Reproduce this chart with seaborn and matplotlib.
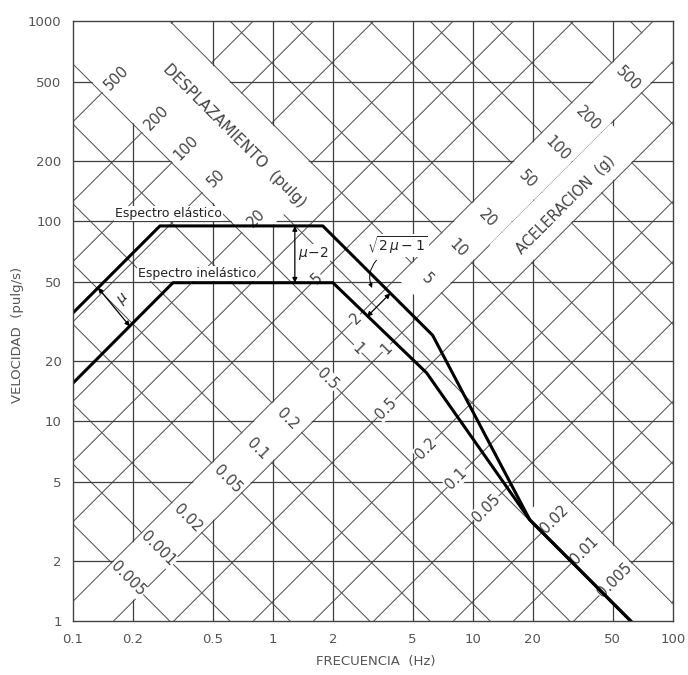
import numpy as np
import pandas as pd
import seaborn as sns
import matplotlib.pyplot as plt
from matplotlib.patches import Polygon

sns.set_theme(style='white')
plt.rcParams['font.family'] = ['DejaVu Sans']

G = 386.0  # gravedad en pulg/s2

# ejes
frec_ticks = [0.1, 0.2, 0.5, 1, 2, 5, 10, 20, 50, 100]
vel_ticks = [1, 2, 5, 10, 20, 50, 100, 200, 500, 1000]

# lineas diagonales del nomograma
desp_lineas = [0.0005, 0.001, 0.002, 0.005, 0.01, 0.02, 0.05, 0.1, 0.2, 0.5,
               1, 2, 5, 10, 20, 50, 100, 200, 500, 1000, 2000, 5000]
acel_lineas = [0.0002, 0.0005, 0.001, 0.002, 0.005, 0.01, 0.02, 0.05, 0.1, 0.2, 0.5,
               1, 2, 5, 10, 20, 50, 100, 200, 500, 1000, 2000]

# espectros (frecuencia Hz, velocidad pulg/s)
elastico_f = [0.1, 0.273, 1.78, 6.3, 19.3, 62]
elastico_v = [34.8, 95, 95, 27, 3.22, 1.0]
inelastico_f = [0.1, 0.317, 2.0, 5.88, 19.3, 62]
inelastico_v = [15.5, 49.4, 49.4, 17.5, 3.22, 1.0]

# rotulos de desplazamiento (pulg)
desp_rot = ['500', '200', '100', '50', '20', '5', '2', '1',
            '0.5', '0.2', '0.1', '0.05', '0.02', '0.01', '0.005']
desp_rot_val = [500, 200, 100, 50, 20, 5, 2, 1, 0.5, 0.2, 0.1, 0.05, 0.02, 0.01, 0.005]
desp_rot_acel = [1.4] * 8 + [0.7] * 4 + [1.35] * 3   # aceleracion donde va cada rotulo

# rotulos de aceleracion (g)
acel_rot = ['0.005', '0.001', '0.02', '0.05', '0.1', '0.2', '0.5', '1',
            '5', '10', '20', '50', '100', '200', '500']
acel_rot_val = [0.005, 0.01, 0.02, 0.05, 0.1, 0.2, 0.5, 1, 5, 10, 20, 50, 100, 200, 500]
acel_rot_desp = 1.38


def punto(A, D):
    # interseccion de la linea de aceleracion A con la de desplazamiento D
    v = np.sqrt(A * D * G)
    return v / (2 * np.pi * D), v


fig = plt.figure(figsize=(6.88, 6.75), dpi=100)
ax = fig.add_axes([0.1057, 0.0793, 0.8721, 0.8889])
ax.set_xscale('log')
ax.set_yscale('log')

gris = '#575757'
f_ext = np.array([0.01, 1000.0])
for D in desp_lineas:
    ax.plot(f_ext, 2 * np.pi * f_ext * D, color=gris, lw=0.75, zorder=1)
for A in acel_lineas:
    ax.plot(f_ext, A * G / (2 * np.pi * f_ext), color=gris, lw=0.75, zorder=1)
for f in frec_ticks[1:-1]:
    ax.axvline(f, color='#3f3f3f', lw=0.9, zorder=1)
for v in vel_ticks[1:-1]:
    ax.axhline(v, color='#3f3f3f', lw=0.9, zorder=1)


# franjas blancas donde van los rotulos
def franja(a1, a2, d1, d2):
    k = 1.015
    a1, a2, d1, d2 = a1 * k, a2 / k, d1 * k, d2 / k
    esq = [punto(a1, d1), punto(a2, d1), punto(a2, d2), punto(a1, d2)]
    ax.add_patch(Polygon(esq, closed=True, fc='white', ec='none', zorder=2))


franja(1e-6, 0.3, 1, 2)       # aceleracion, abajo a la izquierda
franja(3.5, 1e6, 1, 2)        # aceleracion, arriba a la derecha
franja(15, 250, 0.5, 1.02)    # zona del titulo de aceleracion
franja(1, 5, 15, 1e6)         # desplazamiento, arriba a la izquierda
franja(1, 2, 1e-6, 0.03)      # desplazamiento, abajo a la derecha

caja = dict(fc='white', ec='none', pad=0.6)
for s, D, A in zip(desp_rot, desp_rot_val, desp_rot_acel):
    x, y = punto(A, D)
    ax.text(x, y, s, rotation=45, rotation_mode='anchor', ha='center', va='center',
            fontsize=10.5, color='#444444', zorder=4, bbox=caja)
for s, A in zip(acel_rot, acel_rot_val):
    x, y = punto(A, acel_rot_desp)
    ax.text(x, y, s, rotation=-45, rotation_mode='anchor', ha='center', va='center',
            fontsize=10.5, color='#444444', zorder=4, bbox=caja)

x, y = punto(2.8, 66)
ax.text(x, y, 'DESPLAZAMIENTO  (pulg)', rotation=-45, rotation_mode='anchor',
        ha='center', va='center', fontsize=11, color='#444444', zorder=4)
x, y = punto(57, 0.66)
ax.text(x, y, 'ACELERACION  (g)', rotation=45, rotation_mode='anchor',
        ha='center', va='center', fontsize=10.5, color='#444444', zorder=4)

# espectros
df = pd.DataFrame({
    'f': elastico_f + inelastico_f,
    'v': elastico_v + inelastico_v,
    'espectro': ['elastico'] * len(elastico_f) + ['inelastico'] * len(inelastico_f),
})
sns.lineplot(data=df, x='f', y='v', units='espectro', estimator=None, sort=False,
             color='black', lw=2.2, ax=ax, zorder=5, legend=False)

ax.text(0.163, 102, 'Espectro elástico', ha='left', va='bottom', fontsize=9,
        color='#222222', zorder=4, bbox=caja)
ax.text(0.212, 51, 'Espectro inelástico', ha='left', va='bottom', fontsize=9,
        color='#222222', zorder=4, bbox=caja)

flecha = dict(arrowstyle='<|-|>', color='black', lw=0.9, mutation_scale=7,
              shrinkA=0, shrinkB=0)
ax.annotate('', xy=(0.193, 29.9), xytext=(0.134, 46.6), arrowprops=flecha, zorder=6)
ax.text(0.18, 41, r'$\mu$', rotation=45, ha='center', va='center', fontsize=10, zorder=6)
ax.annotate('', xy=(1.29, 49.4), xytext=(1.29, 95), arrowprops=flecha, zorder=6)
ax.text(1.6, 69, r'$\mu\!-\!2$', ha='center', va='center', fontsize=10, zorder=6,
        bbox=caja)
ax.annotate('', xy=(2.96, 33.4), xytext=(3.87, 43.7), arrowprops=flecha, zorder=6)
ax.annotate('', xy=(3.14, 46.5), xytext=(3.3, 64),
            arrowprops=dict(arrowstyle='-|>', color='black', lw=0.7, mutation_scale=6,
                            shrinkA=0, shrinkB=0, connectionstyle='arc3,rad=0.3'), zorder=6)
ax.text(4.2, 76, r'$\sqrt{2\,\mu-1}$', ha='center', va='center', fontsize=10, zorder=6,
        bbox=caja)

ax.set_xlim(0.1, 100)
ax.set_ylim(1, 1000)
ax.set_xticks(frec_ticks)
ax.set_xticklabels([f'{t:g}' for t in frec_ticks])
ax.set_yticks(vel_ticks)
ax.set_yticklabels([f'{t:g}' for t in vel_ticks])
ax.minorticks_off()
ax.tick_params(length=0, labelsize=9.5, labelcolor='#555555', pad=8)
ax.set_xlabel('')
ax.set_ylabel('')
for sp in ax.spines.values():
    sp.set_color('#444444')
    sp.set_linewidth(1.0)
    sp.set_zorder(7)

fig.text(376 / 688, 1 - 662 / 675, 'FRECUENCIA  (Hz)', ha='center', va='center',
         fontsize=9.5, color='#555555')
fig.text(18 / 688, 1 - 335 / 675, 'VELOCIDAD  (pulg/s)', ha='center', va='center',
         rotation=90, fontsize=9.5, color='#555555')

fig.savefig('out.png', dpi=100, facecolor='white')
